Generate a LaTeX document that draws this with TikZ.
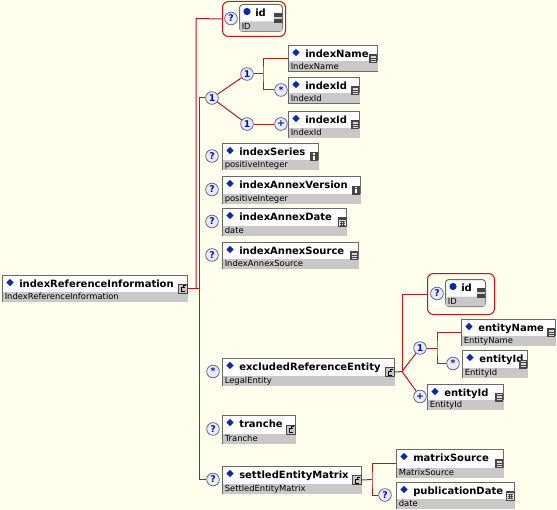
\documentclass[tikz,border=0pt]{standalone}
\usepackage{fontspec}
\setmainfont{DejaVu Sans}
\usetikzlibrary{calc}
\definecolor{bgc}{RGB}{255,255,238}
\definecolor{wirered}{RGB}{185,25,25}
\definecolor{boxln}{RGB}{105,105,105}
\definecolor{bandc}{RGB}{200,200,200}
\definecolor{diac}{RGB}{10,40,170}
\definecolor{icdk}{RGB}{70,70,70}
\definecolor{cardln}{RGB}{95,100,150}
\definecolor{cardfill}{RGB}{236,236,246}
\definecolor{cardtx}{RGB}{0,20,180}
\tikzset{
  wire/.style={draw=wirered, line width=0.75pt},
  ebox/.style={draw=boxln, fill=white, line width=0.75pt, rectangle, inner sep=0pt, anchor=north west},
  nametx/.style={anchor=base west, inner sep=0pt, font=\fontsize{7.5}{9}\selectfont\bfseries},
  typetx/.style={anchor=base west, inner sep=0pt, font=\fontsize{6.3}{7.5}\selectfont},
  card/.style={circle, draw=cardln, fill=cardfill, line width=0.6pt, minimum size=9.5pt, inner sep=0pt, text=cardtx, font=\fontsize{7}{7}\selectfont\bfseries},
  grp/.style={draw=wirered, line width=0.75pt, rounded corners=4.5pt, inner sep=0pt, anchor=north west},
  icsimple/.pic={\fill[icdk] (-4,-4.5) rectangle (4,4.5);
    \draw[white!85!black, line width=0.5pt] (-2.5,-2.6)--(2.5,-2.6) (-2.5,-0.9)--(2.5,-0.9) (-2.5,0.8)--(2.5,0.8) (-2.5,2.5)--(2.5,2.5);},
  icint/.pic={\fill[icdk] (-4,-4.5) rectangle (4,4.5);
    \fill[white] (-0.7,-3.2) rectangle (0.7,-1.9); \fill[white] (-0.7,-0.9) rectangle (0.7,3.2);},
  icdate/.pic={\fill[white!88!black] (-4,-4.5) rectangle (4,4.5);
    \draw[icdk, line width=0.5pt] (-4,-4.5) rectangle (4,4.5);
    \fill[icdk] (-4,-4.5) rectangle (4,-2.5);
    \draw[icdk, line width=0.35pt] (-2.5,-1)--(2.5,-1) (-2.5,1)--(2.5,1) (-2.5,3)--(2.5,3) (-1,-1.5)--(-1,3.5) (1,-1.5)--(1,3.5);},
  icid/.pic={\fill[icdk] (-4,-5) rectangle (4,5); \fill[white!80!black] (-4,-0.8) rectangle (4,0.8);},
  iccplx/.pic={\fill[gray!45] (-4.5,-4.5) rectangle (4.5,4.5);
    \draw[icdk, line width=0.5pt] (-4.5,-4.5) rectangle (4.5,4.5);
    \draw[black, line width=0.6pt] (2,-0.8) -- (-1.5,-0.8) -- (-1.5,3) -- (2,3);
    \draw[black, line width=0.6pt] (0,-0.8) -- (0,-3) -- (2.5,-3);},
}
\newcommand\elem[8]{%
  \node[ebox, minimum width=#4*0.75pt, minimum height=#5*0.75pt] (#1) at (#2,#3) {};
  \fill[bandc] ($(#1.south west)+(0.5,-0.5)$) rectangle ($(#1.south east)+(-0.5,-10.5)$);
  \fill[diac] ($(#1.north west)+(8,3.8)$) -- ++(3.7,3.7) -- ++(-3.7,3.7) -- ++(-3.7,-3.7) -- cycle;
  \node[nametx] (#1-n) at ($(#1.north west)+(17,12.5)$) {#6};
  \node[typetx] (#1-t) at ($(#1.south west)+(2.5,-2.6)$) {#7};
  \pic at ($(#1.east)+(-5,0)$) {#8};
}
\newcommand\attrbox[7]{%
  \node[ebox, rounded corners=2.5pt, minimum width=#4*0.75pt, minimum height=#5*0.75pt] (#1) at (#2,#3) {};
  \fill[bandc, rounded corners=2pt] ($(#1.south west)+(0.6,-0.6)$) rectangle ($(#1.south east)+(-0.6,-10.5)$);
  \fill[diac] ($(#1.north west)+(8,7.5)$) circle[radius=2.7pt];
  \node[nametx] (#1-n) at ($(#1.north west)+(16,12.5)$) {#6};
  \node[typetx] (#1-t) at ($(#1.south west)+(2.5,-2.6)$) {#7};
  \pic at ($(#1.east)+(-5,0)$) {icid};
}
\begin{document}
\begin{tikzpicture}[x=0.75pt,y=-0.75pt]
\useasboundingbox (0,0) rectangle (557,510);
\fill[bgc] (0,0) rectangle (557,510);

% elements
\elem{main}{2}{275}{185}{26}{indexReferenceInformation}{IndexReferenceInformation}{iccplx}
\elem{iname}{288}{45}{89}{26}{indexName}{IndexName}{icsimple}
\elem{iid1}{288}{77}{71}{26}{indexId}{IndexId}{icsimple}
\elem{iid2}{288}{111}{71}{26}{indexId}{IndexId}{icsimple}
\elem{iser}{222}{143}{96}{26}{indexSeries}{positiveInteger}{icint}
\elem{iver}{222}{176}{138}{27}{indexAnnexVersion}{positiveInteger}{icint}
\elem{idate}{222}{208}{124}{27}{indexAnnexDate}{date}{icdate}
\elem{isrc}{222}{242}{136}{26}{indexAnnexSource}{IndexAnnexSource}{icsimple}
\elem{excl}{222}{358}{172}{27}{excludedReferenceEntity}{LegalEntity}{iccplx}
\elem{ename}{461}{319}{94}{26}{entityName}{EntityName}{icsimple}
\elem{eid1}{462}{350}{65}{27}{entityId}{EntityId}{icsimple}
\elem{eid2}{427}{384}{76}{25}{entityId}{EntityId}{icsimple}
\elem{tran}{222}{415}{73}{28}{tranche}{Tranche}{iccplx}
\elem{sem}{222}{466}{139}{27}{settledEntityMatrix}{SettledEntityMatrix}{iccplx}
\elem{msrc}{396}{449}{107}{28}{matrixSource}{MatrixSource}{icsimple}
\elem{pdate}{396}{482}{118}{26}{publicationDate}{date}{icdate}

% attribute groups
\node[grp, minimum width=63*0.75pt, minimum height=35*0.75pt] (g1) at (222,1) {};
\node[card] (q0) at (231,18.5) {?};
\attrbox{aid1}{239}{4}{43}{27}{id}{ID}
\node[grp, minimum width=67*0.75pt, minimum height=41*0.75pt] (g2) at (427,273) {};
\node[card] (q7) at (437,293.5) {?};
\attrbox{aid2}{445}{279}{40}{27}{id}{ID}

% compositors / cardinalities
\node[card] (seq) at (212,98) {1};
\node[card] (c1) at (247,74) {1};
\node[card] (c2) at (247,124) {1};
\node[card] (st1) at (281,90) {*};
\node[card] (pl1) at (281,124) {+};
\node[card] (q1) at (212,156) {?};
\node[card] (q2) at (212,189.5) {?};
\node[card] (q3) at (212,221.5) {?};
\node[card] (q4) at (212,255) {?};
\node[card] (st2) at (213,371.5) {*};
\node[card] (q5) at (213,429) {?};
\node[card] (q6) at (213,479.5) {?};
\node[card] (c3) at (420,348) {1};
\node[card] (st3) at (453,363.5) {*};
\node[card] (pl2) at (420,396.5) {+};
\node[card] (q8) at (385,495) {?};

% junction coordinates
\coordinate (jA) at (196,18.5);
\coordinate (jB) at (199,98);
\coordinate (jC) at (263,74);
\coordinate (jD) at (402,371.5);
\coordinate (jE) at (437,348);
\coordinate (jF) at (372,479.5);

% connectors
\draw[wire] (main.east) -- (main.east -| jB);
\draw[wire] (main.east -| jA) -- (jA) -- (g1.west);
\draw[wire] (seq) -- (seq -| jB) -- (jB |- q6) -- (q6);
\draw[wire] (seq) -- (c1);
\draw[wire] (seq) -- (c2);
\draw[wire] (c1) -- (jC);
\draw[wire] (iname.west) -| (jC) |- (st1);
\draw[wire] (c2) -- (pl1);
\draw[wire] (excl.east) -- (jD);
\draw[wire] (jD) |- (g2.west);
\draw[wire] (jD) -- (c3);
\draw[wire] (jD) -- (pl2);
\draw[wire] (c3) -- (jE);
\draw[wire] (ename.west) -| (jE) |- (st3);
\draw[wire] (sem.east) -- (jF);
\draw[wire] (msrc.west) -| (jF) |- (q8);
\end{tikzpicture}
\end{document}
